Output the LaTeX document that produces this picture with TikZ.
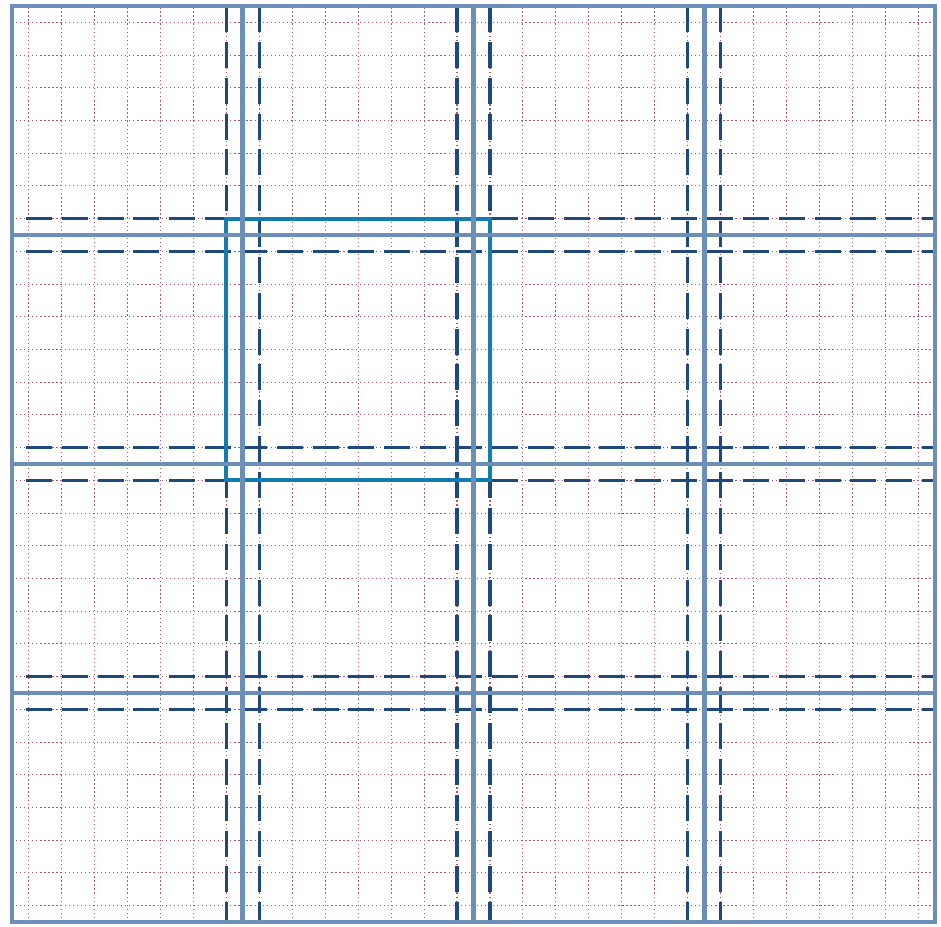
\documentclass[tikz,border=0pt]{standalone}
\usepackage{tikz}
\definecolor{gridred}{RGB}{150,60,90}
\definecolor{tileblue}{RGB}{108,143,184}
\definecolor{halonavy}{RGB}{31,73,125}
\definecolor{focusteal}{RGB}{20,125,175}

\begin{document}
\begin{tikzpicture}[x=2.3075cm, y=2.29cm,
	finegrid/.style={gridred!85, line width=0.3pt, dash pattern=on 0.35pt off 0.8pt},
	halo/.style={halonavy, line width=0.95pt, dash pattern=on 7.4pt off 2.8pt},
	tileedge/.style={tileblue, line width=1.4pt},
	focus/.style={focusteal, line width=1.1pt}]
	\useasboundingbox (-0.052,-0.0175) rectangle (4.026,4.0262);
	% fine cells, 7 per tile
	\foreach \k in {0,...,27} {
		\draw[finegrid] ({(2*\k+1)/14},0) -- ({(2*\k+1)/14},4);
		\draw[finegrid] (0,{(2*\k+1)/14}) -- (4,{(2*\k+1)/14});
	}
	% overlap band on both sides of each inner tile edge
	\foreach \i in {1,2,3} {
		\foreach \s in {-1,1} {
			\draw[halo] ({\i+\s/14},4) -- ({\i+\s/14},0);
			\draw[halo] (0.06,{\i+\s/14}) -- (4,{\i+\s/14});
		}
	}
	\draw[focus] ({13/14},{2-1/14}) rectangle ({2+1/14},{3+1/14});
	% tiles
	\draw[tileedge] (0,0) rectangle (4,4);
	\foreach \i in {1,2,3} {
		\draw[tileedge] (\i,0) -- (\i,4);
		\draw[tileedge] (0,\i) -- (4,\i);
	}
\end{tikzpicture}
\end{document}
